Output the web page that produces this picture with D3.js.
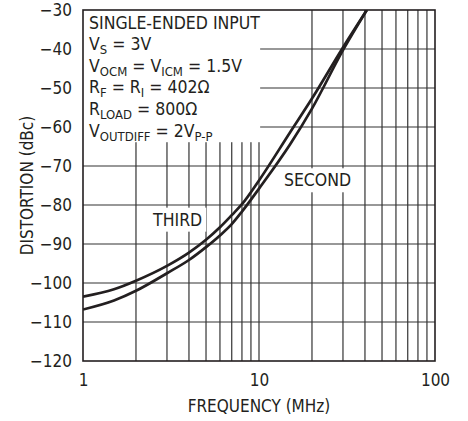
<!DOCTYPE html>
<html>
<head>
<meta charset="utf-8">
<script src="https://cdn.jsdelivr.net/npm/d3@7"></script>
<style>
body { margin: 0; background: #fff; }
text { font-family: "Liberation Sans Narrow", "Arial Narrow", "DejaVu Sans Condensed", sans-serif; fill: #231f20; }
</style>
</head>
<body>
<script>
// values
var freqs = [1, 1.5, 2, 3, 4, 5, 6, 7, 8, 10, 15, 20, 30, 41];
var third = [-103.5, -101.6, -99.4, -95.6, -92.2, -88.9, -85.7, -82.6, -79.8, -73.7, -61.4, -52.7, -39.6, -30];
var second = [-106.8, -104.5, -102.0, -97.5, -94.1, -90.8, -87.8, -84.9, -81.7, -75.8, -64.5, -55.3, -40.3, -30];

var xTicks = [1, 10, 100];
var xGrid = [2, 3, 4, 5, 6, 7, 8, 9, 10, 20, 30, 40, 50, 60, 70, 80, 90];
var yTicks = [-120, -110, -100, -90, -80, -70, -60, -50, -40, -30];

var notes = [
    [["SINGLE-ENDED INPUT", 0]],
    [["V", 0], ["S", 1], [" = 3V", 0]],
    [["V", 0], ["OCM", 1], [" = V", 0], ["ICM", 1], [" = 1.5V", 0]],
    [["R", 0], ["F", 1], [" = R", 0], ["I", 1], [" = 402\u03A9", 0]],
    [["R", 0], ["LOAD", 1], [" = 800\u03A9", 0]],
    [["V", 0], ["OUTDIFF", 1], [" = 2V", 0], ["P-P", 1]]
];

var margin = {top: 10, right: 33, bottom: 60, left: 83};
var width = 468 - margin.left - margin.right,
    height = 421 - margin.top - margin.bottom;

var svg = d3.select("body").append("svg")
    .attr("width", 468)
    .attr("height", 421)
    .append("g")
    .attr("transform", "translate(" + margin.left + "," + margin.top + ")");

var x = d3.scaleLog().domain([1, 100]).range([0, width]);
var y = d3.scaleLinear().domain([-120, -30]).range([height, 0]);

// grid
svg.selectAll(".vgrid")
    .data(xGrid)
    .enter().append("line")
    .attr("x1", function(d){ return x(d); })
    .attr("x2", function(d){ return x(d); })
    .attr("y1", 0).attr("y2", height)
    .attr("stroke", "#333").attr("stroke-width", 1.2);

svg.selectAll(".hgrid")
    .data(yTicks.slice(1, -1))
    .enter().append("line")
    .attr("x1", 0).attr("x2", width)
    .attr("y1", function(d){ return y(d); })
    .attr("y2", function(d){ return y(d); })
    .attr("stroke", "#333").attr("stroke-width", 1.2);

// white box behind the conditions text
svg.append("rect")
    .attr("x", 0).attr("y", 0)
    .attr("width", x(10.15)).attr("height", y(-63.9))
    .attr("fill", "#fff");

var notesText = svg.append("g");
notes.forEach(function(line, i){
    var t = notesText.append("text")
        .attr("x", 6)
        .attr("y", 18.5 + i * 21.6)
        .style("font-size", "17.5px");
    line.forEach(function(seg){
        var ts = t.append("tspan").text(seg[0]);
        if (seg[1]) ts.style("font-size", "13px").attr("baseline-shift", "-3.5px");
    });
});

// curve labels with white backing
var labels = [
    {name: "THIRD", f: 3.45, v: -85.3},
    {name: "SECOND", f: 21.5, v: -75.2}
];
labels.forEach(function(l){
    var t = svg.append("text")
        .attr("x", x(l.f)).attr("y", y(l.v))
        .attr("text-anchor", "middle")
        .style("font-size", "17.5px")
        .text(l.name);
    var b = t.node().getBBox();
    svg.insert("rect", function(){ return t.node(); })
        .attr("x", b.x - 4).attr("y", b.y - 2)
        .attr("width", b.width + 8).attr("height", b.height + 4)
        .attr("fill", "#fff");
});

// curves
svg.append("clipPath").attr("id", "clip")
    .append("rect").attr("width", width).attr("height", height);

var line = d3.line()
    .x(function(d){ return x(d[0]); })
    .y(function(d){ return y(d[1]); })
    .curve(d3.curveMonotoneX);

[third, second].forEach(function(s){
    svg.append("path")
        .datum(d3.zip(freqs, s))
        .attr("d", line)
        .attr("clip-path", "url(#clip)")
        .attr("fill", "none")
        .attr("stroke", "#231f20")
        .attr("stroke-width", 2.7);
});

// frame
svg.append("rect")
    .attr("width", width).attr("height", height)
    .attr("fill", "none")
    .attr("stroke", "#231f20").attr("stroke-width", 1.6);

// axes
var yAxis = d3.axisLeft(y).tickValues(yTicks)
    .tickSize(0).tickPadding(11)
    .tickFormat(function(d){ return d3.format("d")(d).replace("-", "\u2212"); });
svg.append("g").call(yAxis)
    .call(function(g){ g.select(".domain").remove(); })
    .selectAll("text").style("font-size", "17px").attr("dy", "0.35em");

var xAxis = d3.axisBottom(x).tickValues(xTicks)
    .tickSize(0).tickPadding(13)
    .tickFormat(d3.format("d"));
svg.append("g").attr("transform", "translate(0," + height + ")").call(xAxis)
    .call(function(g){ g.select(".domain").remove(); })
    .selectAll("text").style("font-size", "17px");

svg.selectAll(".tick text").style("fill", "#231f20");

svg.append("text")
    .attr("x", width / 2).attr("y", height + 51)
    .attr("text-anchor", "middle")
    .style("font-size", "17px")
    .text("FREQUENCY (MHz)");

svg.append("text")
    .attr("transform", "translate(" + (-50) + "," + (height / 2) + ") rotate(-90)")
    .attr("text-anchor", "middle")
    .style("font-size", "17px")
    .text("DISTORTION (dBc)");
</script>
</body>
</html>
